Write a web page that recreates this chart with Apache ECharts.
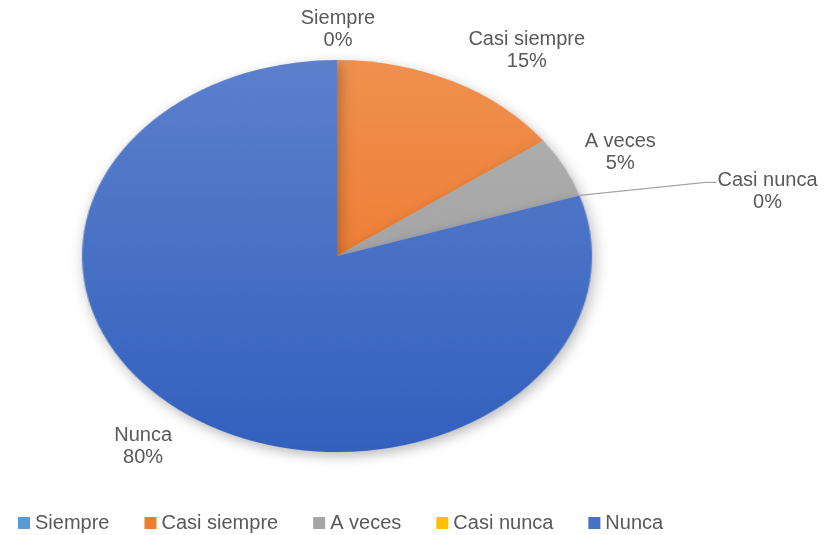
<!DOCTYPE html>
<html>
<head>
<meta charset="utf-8">
<script src="https://cdn.jsdelivr.net/npm/echarts/dist/echarts.min.js"></script>
<style>
  html, body { margin: 0; padding: 0; background: #ffffff; }
  #wrap { position: relative; width: 825px; height: 535px; overflow: hidden; }
  #pie { position: absolute; left: 0; top: 0; height: 535px; transform-origin: 0 0; }
  #labels { position: absolute; left: 0; top: 0; width: 825px; height: 535px; }
</style>
</head>
<body>
<div id="wrap">
  <div id="pie"></div>
  <div id="labels"></div>
</div>
<script>
// Answer categories and their share of responses (%)
const categories = ['Siempre', 'Casi siempre', 'A veces', 'Casi nunca', 'Nunca'];
const shares = [0, 15, 5, 0, 80];

// Slice fills: lighter at the top of the pie, deeper towards the bottom
const topColors    = ['#6AA6DC', '#F0904F', '#B3B3B3', '#FFC933', '#5C80CC'];
const bottomColors = ['#4F8FCB', '#EC6F1D', '#969696', '#F2B400', '#3360BE'];
const swatchColors = ['#5B9BD5', '#ED7D31', '#A5A5A5', '#FFC000', '#4472C4'];

// Elliptical pie geometry (the circle is stretched horizontally)
const CX = 337, CY = 256, RY = 196, RX = 255;
const SX = RX / RY;

// Label placement relative to each slice's mid-point on the rim
const labelNudge = [[1, -31], [74, -31], [56, -15], [188, -4], [-44, 32]];

const total = shares.reduce((a, b) => a + b, 0);
const midAngles = [];
let acc = 0;
shares.forEach(v => { midAngles.push(2 * Math.PI * (acc + v / 2) / total); acc += v; });
const rimPoint = a => [CX + RX * Math.sin(a), CY - RY * Math.cos(a)];

const font = '"Liberation Sans", Arial, sans-serif';

// ---- Slices, drawn on a circle then stretched into an ellipse ----
const pieDiv = document.getElementById('pie');
pieDiv.style.width = (825 / SX) + 'px';
pieDiv.style.transform = 'scaleX(' + SX + ')';
const pieChart = echarts.init(pieDiv, null, { renderer: 'canvas' });
pieChart.setOption({
  animation: false,
  series: [{
    type: 'pie',
    silent: true,
    center: [CX / SX, CY],
    radius: RY,
    startAngle: 90,
    clockwise: true,
    label: { show: false },
    labelLine: { show: false },
    data: categories.map((name, i) => ({
      name: name,
      value: shares[i],
      itemStyle: {
        borderWidth: 0,
        color: {
          type: 'linear', global: true,
          x: 0, y: CY - RY, x2: 0, y2: CY + RY,
          colorStops: [
            { offset: 0, color: topColors[i] },
            { offset: 1, color: bottomColors[i] }
          ]
        },
        shadowBlur: 12,
        shadowColor: 'rgba(0,0,0,0.28)',
        shadowOffsetX: 2,
        shadowOffsetY: 4
      }
    }))
  }]
});

// ---- Data labels and legend, unstretched ----
const labelChart = echarts.init(document.getElementById('labels'), null, { renderer: 'canvas' });
labelChart.setOption({
  animation: false,
  legend: {
    left: 18,
    top: 513,
    padding: 0,
    icon: 'rect',
    itemWidth: 12,
    itemHeight: 12,
    itemGap: 35,
    textStyle: { fontFamily: font, fontSize: 20, color: '#595959' },
    data: categories.map((name, i) => ({ name: name, itemStyle: { color: swatchColors[i] } }))
  },
  series: [{
    type: 'pie',
    silent: true,
    center: [CX, CY],
    radius: RY,
    startAngle: 90,
    clockwise: true,
    avoidLabelOverlap: false,
    stillShowZeroSum: true,
    itemStyle: { color: 'rgba(0,0,0,0)', borderWidth: 0 },
    label: {
      show: true,
      position: 'outside',
      formatter: '{b}\n{c}%',
      fontFamily: font,
      fontSize: 20,
      lineHeight: 22,
      color: '#595959',
      align: 'center'
    },
    labelLine: { show: false, lineStyle: { color: '#a6a6a6', width: 1.3 } },
    labelLayout: function (params) {
      const i = params.dataIndex;
      const p = rimPoint(midAngles[i]);
      const x = p[0] + labelNudge[i][0];
      const y = p[1] + labelNudge[i][1];
      const out = { x: x, y: y, align: 'center', verticalAlign: 'middle' };
      if (i === 3) {
        const w = params.labelRect.width;
        const left = x - w / 2;
        const lineY = y - 9;
        out.labelLinePoints = [p, [left - 12, lineY], [left - 1, lineY]];
      }
      return out;
    },
    data: categories.map((name, i) => ({
      name: name,
      value: shares[i],
      labelLine: { show: i === 3 }
    }))
  }]
});
</script>
</body>
</html>
